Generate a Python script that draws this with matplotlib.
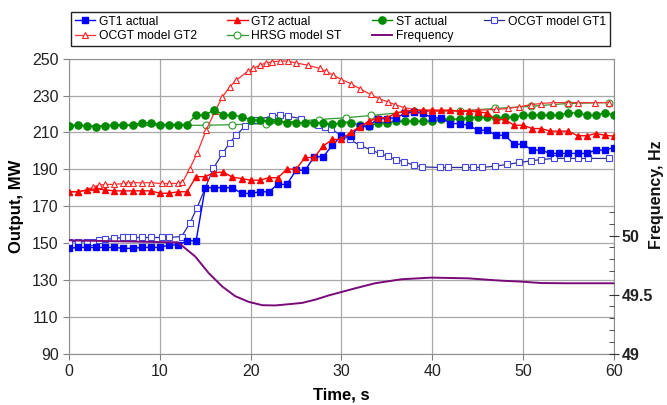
import numpy as np
import matplotlib
matplotlib.use("Agg")
import matplotlib.pyplot as plt
from matplotlib.ticker import FixedLocator

plt.rcParams['font.family'] = ['Liberation Sans', 'DejaVu Sans']

# measured series, one sample per second
t_actual = np.arange(0, 61)
gt1_actual = [147.1, 147.6, 147.6, 147.6, 147.6, 147.6, 147.1, 147.1, 147.6, 147.6,
              147.6, 148.9, 148.9, 151.2, 151.2, 180.0, 180.0, 180.0, 180.0, 176.9,
              176.9, 177.8, 177.8, 181.8, 181.8, 189.5, 189.5, 196.8, 196.8, 203.1,
              208.0, 208.0, 213.4, 213.4, 217.5, 217.5, 218.0, 220.3, 221.0, 220.3,
              217.9, 217.9, 214.8, 214.8, 213.9, 211.2, 211.2, 208.5, 208.5, 203.6,
              203.6, 200.4, 200.4, 198.6, 198.6, 198.6, 198.6, 198.6, 200.4, 200.4,
              201.8]
gt2_actual = [177.8, 177.8, 178.8, 179.5, 178.8, 178.3, 178.3, 178.3, 178.3, 178.3,
              177.0, 177.0, 177.8, 177.8, 186.0, 186.0, 188.2, 188.5, 185.7, 185.0,
              184.1, 184.1, 185.4, 185.4, 190.1, 190.1, 196.4, 196.4, 202.7, 206.2,
              206.2, 210.0, 213.0, 216.0, 217.9, 217.9, 220.6, 221.5, 222.1, 222.1,
              222.1, 222.1, 222.1, 221.5, 221.5, 221.2, 220.6, 217.0, 217.0, 213.9,
              213.9, 212.1, 212.1, 210.7, 210.7, 210.7, 208.2, 208.2, 209.4, 208.5,
              208.0]
st_actual = [213.4, 214.3, 213.4, 213.2, 213.6, 214.3, 214.1, 214.0, 215.2, 215.2,
             214.3, 214.3, 214.3, 214.3, 219.4, 219.4, 222.4, 219.4, 219.4, 218.5,
             217.0, 216.6, 216.1, 216.1, 215.2, 215.2, 215.2, 215.2, 215.2, 214.4,
             215.2, 215.2, 213.9, 213.4, 215.2, 215.2, 216.1, 216.1, 216.1, 216.1,
             216.1, 217.2, 217.2, 217.2, 218.0, 218.3, 218.3, 217.9, 218.3, 218.3,
             219.4, 219.4, 219.4, 219.4, 219.4, 220.6, 220.6, 219.4, 219.4, 220.6,
             219.4]

# model series (variable time step)
t_ocgt1 = [0, 1, 2, 2.7, 3.3, 4, 5, 6, 6.5, 7, 8, 9, 10.2, 11, 12.4, 13.3, 14.1,
           15.9, 16.9, 17.7, 18.4, 19.4, 20.5, 22.3, 23.2, 24.1, 25.6, 27.4, 28.2,
           28.9, 30.0, 30.9, 32.0, 33.3, 34.2, 35.1, 36.0, 36.9, 38.0, 38.9, 40.8,
           41.7, 43.6, 44.5, 45.5, 46.9, 48.2, 49.6, 50.9, 52.0, 53.4, 54.8, 56.1,
           57.1, 59.5]
ocgt1 = [150.7, 150.7, 150.7, 150.7, 151.6, 151.9, 152.5, 153.0, 153.0, 153.0, 153.0,
         153.0, 153.0, 153.0, 153.5, 160.6, 169.1, 190.5, 198.6, 204.3, 208.5, 213.4,
         216.6, 218.8, 219.4, 218.8, 217.5, 213.9, 212.7, 211.6, 208.5, 206.2, 203.1,
         200.4, 198.6, 197.1, 195.3, 194.0, 192.2, 191.3, 191.0, 191.0, 191.0, 191.0,
         191.0, 191.7, 192.6, 193.7, 194.6, 195.3, 195.9, 195.9, 195.9, 195.9, 195.9]
t_ocgt2 = [0, 1, 2, 2.7, 3.3, 4, 5, 6, 6.5, 7, 8, 9, 10.2, 11, 12, 12.5, 13.3, 14.1,
           15.1, 16.1, 16.9, 17.7, 18.4, 19.7, 20.3, 21.0, 21.7, 22.4, 23.2, 24.1,
           25.0, 26.3, 27.6, 28.3, 29.1, 30.0, 31.0, 32.0, 33.2, 34.1, 35.1, 35.9,
           36.9, 38.0, 39.0, 40.0, 43.0, 45.0, 47.0, 48.3, 49.6, 50.9, 52.0, 53.3,
           55.0, 56.1, 57.9, 59.5]
ocgt2 = [177.8, 177.8, 178.8, 180.5, 181.4, 181.8, 181.8, 182.3, 182.7, 182.7, 182.7,
         182.7, 182.3, 182.3, 182.3, 182.9, 190.4, 198.6, 211.2, 221.7, 229.3, 234.7,
         238.3, 243.2, 244.7, 246.5, 247.7, 248.3, 248.7, 248.7, 247.7, 246.5, 244.7,
         243.2, 241.1, 238.7, 236.5, 233.8, 230.6, 228.4, 226.6, 225.1, 223.5, 222.4,
         221.8, 221.5, 221.8, 222.0, 222.5, 223.0, 223.9, 225.1, 225.7, 226.2, 226.2,
         226.2, 226.2, 226.2]
t_hrsg = [0, 15.1, 18.0, 21.7, 27.5, 30.5, 33.3, 38.0, 43.0, 46.9, 50.9, 54.9, 59.5]
hrsg = [213.6, 213.9, 214.2, 214.8, 217.0, 218.0, 219.2, 221.5, 221.7, 223.0, 224.2,
        225.7, 226.2]

t_freq = [0, 10.2, 12.0, 13.9, 15.4, 16.9, 18.3, 19.8, 21.3, 22.7, 24.4, 25.7, 27.2,
          28.6, 30.1, 31.5, 33.7, 36.6, 39.9, 43.9, 47.6, 49.8, 52.0, 54.9, 59.7, 60]
freq = [49.96, 49.945, 49.943, 49.823, 49.681, 49.567, 49.487, 49.438, 49.41, 49.408,
        49.42, 49.43, 49.459, 49.493, 49.524, 49.553, 49.596, 49.63, 49.644, 49.638,
        49.618, 49.61, 49.598, 49.596, 49.596, 49.596]

fig = plt.figure(figsize=(6.67, 4.05), dpi=100)
ax = fig.add_axes([0.1034, 0.127, 0.817, 0.728])
ax2 = ax.twinx()

grid_c = '#a8a8a8'
for s in ax.spines.values():
    s.set_color('#909090')
for s in ax2.spines.values():
    s.set_visible(False)

ax.set_xlim(0, 60)
ax.set_ylim(90, 250)
ax.set_xticks(range(0, 61, 10))
ax.set_yticks(range(90, 251, 20))
ax.grid(True, color=grid_c, lw=0.9)
ax.set_axisbelow(True)
ax.tick_params(axis='both', labelsize=11.5, colors='#808080', labelcolor='#222222',
               direction='out', length=4)

l_gt1, = ax.plot(t_actual, gt1_actual, color='#0000ff', lw=1.0, marker='s',
                 ms=4.2, mec='#0000ff', zorder=5, label='GT1 actual')
l_gt2, = ax.plot(t_actual, gt2_actual, color='#ff0000', lw=1.0, marker='^',
                 ms=4.5, mec='#ff0000', zorder=5, label='GT2 actual')
l_st, = ax.plot(t_actual, st_actual, color='#008a00', lw=1.0, marker='o',
                ms=5.2, mec='#008a00', zorder=4, label='ST actual')
l_m1, = ax.plot(t_ocgt1, ocgt1, color='#2a2a9a', lw=0.9, marker='s', ms=4.2,
                mfc='white', mec='#4545e0', mew=0.8, zorder=3, label='OCGT model GT1')
l_m2, = ax.plot(t_ocgt2, ocgt2, color='#ff3030', lw=0.9, marker='^', ms=4.5,
                mfc='white', mec='#ff2020', mew=0.8, zorder=3, label='OCGT model GT2')
l_hr, = ax.plot(t_hrsg, hrsg, color='#2e9a2e', lw=0.9, marker='o', ms=5,
                mfc='white', mec='#2e9a2e', mew=0.8, zorder=2, label='HRSG model ST')
l_fr, = ax2.plot(t_freq, freq, color='#7a0a7a', lw=1.4, label='Frequency', zorder=6)

ax2.set_ylim(49, 51.5)
ax2.set_yticks([49, 49.5, 50])
ax2.set_yticklabels(['49', '49.5', '50'], fontweight='bold')
ax2.yaxis.set_minor_locator(FixedLocator([49.1, 49.2, 49.3, 49.4, 49.6, 49.7, 49.8,
                                          49.9, 50.1, 50.2]))
ax2.tick_params(axis='y', which='major', direction='inout', length=7, colors='#333333',
                labelsize=11.5, labelcolor='#222222', pad=2)
ax2.tick_params(axis='y', which='minor', direction='in', length=3.5, colors='#333333')

ax.set_xlabel('Time, s', fontsize=12, fontweight='bold', labelpad=6)
ax.set_ylabel('Output, MW', fontsize=12, fontweight='bold', labelpad=6)
# right-hand axis title, placed by hand so it stays inside the canvas
fig.text(656 / 667, 1 - 195 / 405, 'Frequency, Hz', rotation=90, fontsize=11.5,
         fontweight='bold', ha='center', va='center', color='#111111')

handles = [l_gt1, l_m2, l_gt2, l_hr, l_st, l_fr, l_m1]
fig.legend(handles=handles, labels=[h.get_label() for h in handles], ncol=4,
           loc='upper left', bbox_to_anchor=(71 / 667, 1 - 12 / 405), borderaxespad=0,
           fontsize=8.7, frameon=True, fancybox=False, edgecolor='#222222',
           framealpha=1, handlelength=1.7, handletextpad=0.3, columnspacing=2.5,
           borderpad=0.3, labelspacing=0.2)

fig.savefig('out.png', dpi=100)
